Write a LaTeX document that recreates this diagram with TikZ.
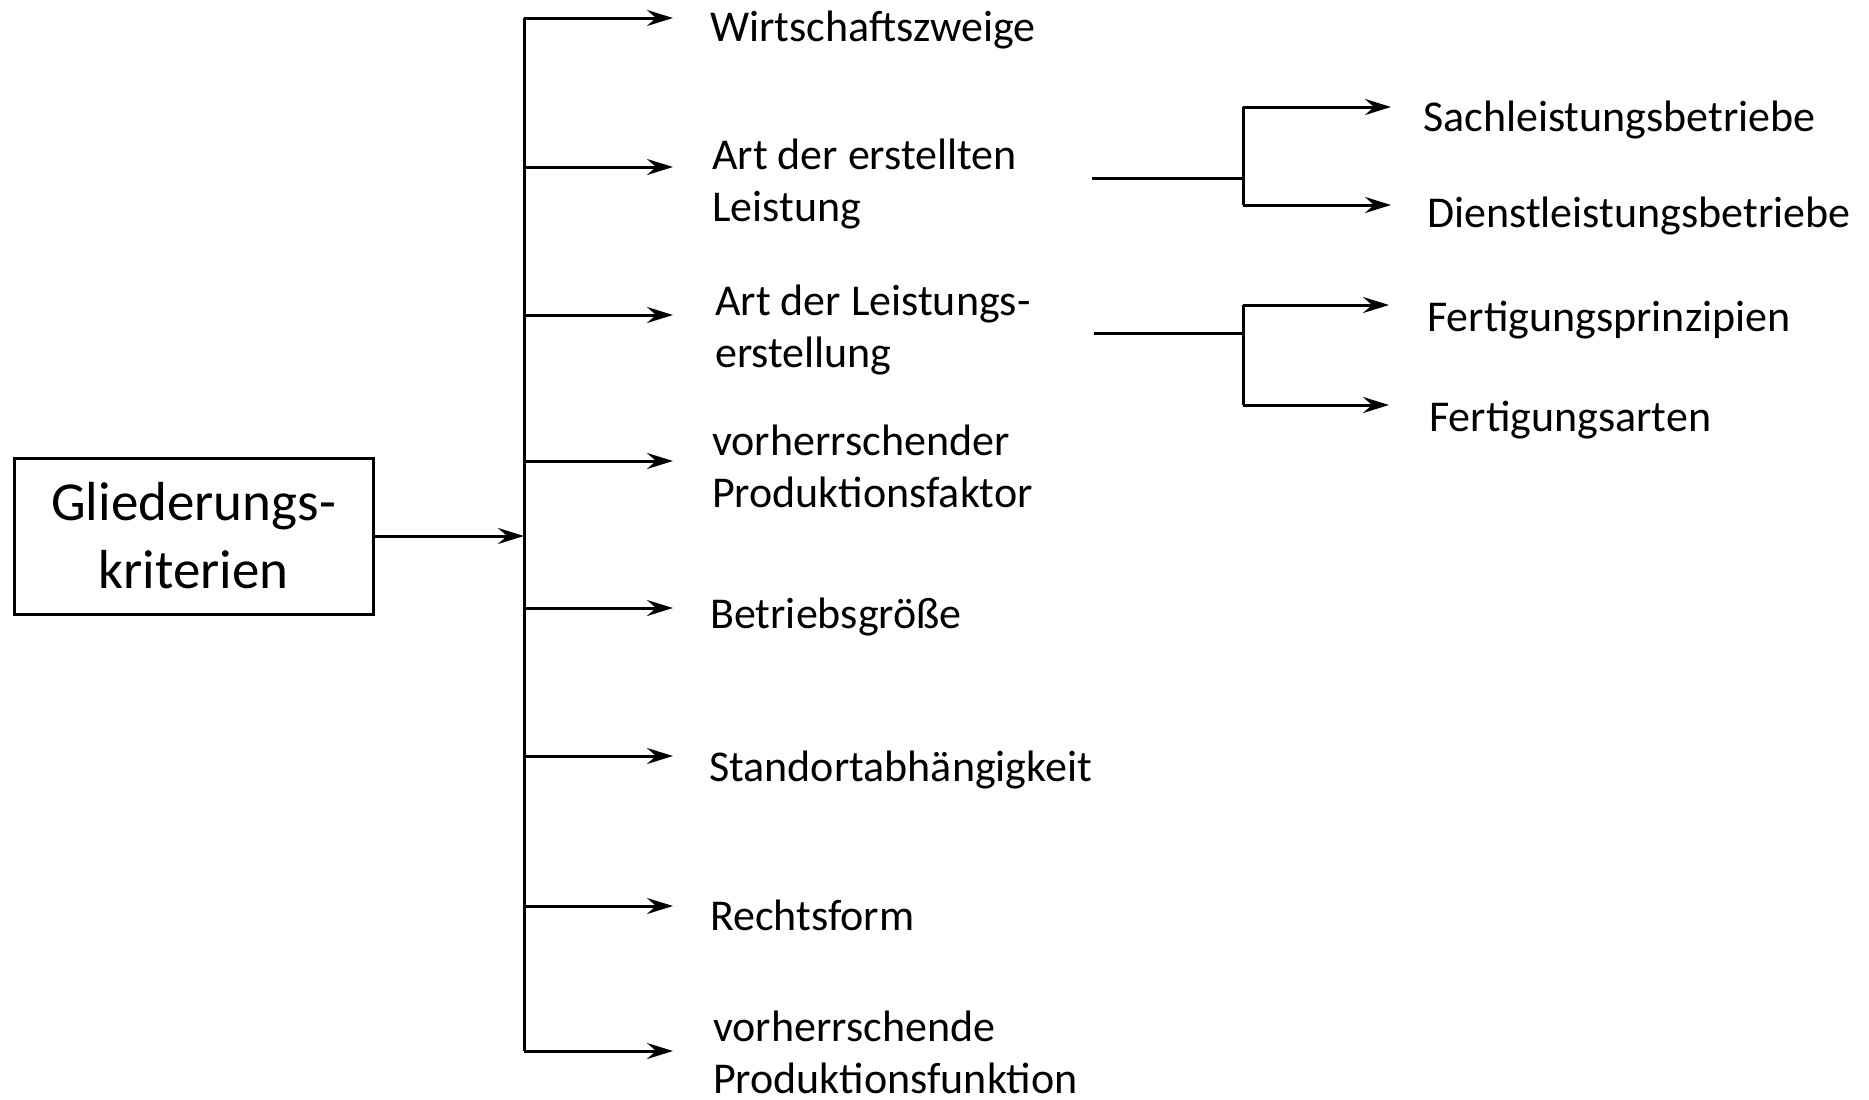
\documentclass[tikz,border=0pt]{standalone}
\usepackage{fontspec}
\setmainfont{Carlito}
\usetikzlibrary{arrows.meta}
\begin{document}
\begin{tikzpicture}[x=1pt,y=-1pt,
  ln/.style={line width=3pt},
  arr/.style={ln,-{Stealth[length=26pt,width=16pt,inset=9pt]}},
  lbl/.style={anchor=west,inner sep=0pt,align=left,font=\fontsize{44}{52}\selectfont},
  box/.style={draw,line width=3pt,minimum width=359pt,minimum height=156pt,align=center,inner sep=0pt,font=\fontsize{55}{68}\selectfont}]
\useasboundingbox (0,0) rectangle (1869,1100);
\node[box] (root) at (193.5,536) {Gliederungs-\\kriterien};
% bus
\coordinate (btop) at (524,18);
\coordinate (bbot) at (524,1051);
\coordinate (bmid) at (524,536);
\draw[ln] (btop) -- (bbot);
\draw[arr] (root.east |- bmid) -- (bmid);
% labels
\node[lbl] (t1) at (710,30) {Wirtschaftszweige};
\node[lbl] (t2) at (712,184) {Art der erstellten\\Leistung};
\node[lbl] (t3) at (715,330) {Art der Leistungs-\\erstellung};
\node[lbl] (t4) at (712,466) {vorherrschender\\Produktionsfaktor};
\node[lbl] (t5) at (710,617) {Betriebsgröße};
\node[lbl] (t6) at (709,770) {Standortabhängigkeit};
\node[lbl] (t7) at (710,915) {Rechtsform};
\node[lbl] (t8) at (713,1052) {vorherrschende\\Produktionsfunktion};
\foreach \i/\y in {1/18,2/167,3/315,4/461,5/608,6/756,7/906,8/1051}{
  \coordinate (s\i) at (524,\y);
  \coordinate (e\i) at (673,\y);
  \draw[arr] (s\i) -- (e\i);
}
% sub-branch 1
\coordinate (a1) at (1092,178);
\coordinate (a2) at (1243,178);
\coordinate (a3) at (1243,107);
\coordinate (a4) at (1243,205);
\coordinate (ae1) at (1391,107);
\coordinate (ae2) at (1391,205);
\draw[ln] (a1) -- (a2);
\draw[ln] (a3) -- (a4);
\draw[arr] (a3) -- (ae1);
\draw[arr] (a4) -- (ae2);
\node[lbl] (u1) at (1423,120) {Sachleistungsbetriebe};
\node[lbl] (u2) at (1427,216) {Dienstleistungsbetriebe};
% sub-branch 2
\coordinate (b1) at (1094,333);
\coordinate (b2) at (1243,333);
\coordinate (b3) at (1243,305);
\coordinate (b4) at (1243,405);
\coordinate (be1) at (1389,305);
\coordinate (be2) at (1389,405);
\draw[ln] (b1) -- (b2);
\draw[ln] (b3) -- (b4);
\draw[arr] (b3) -- (be1);
\draw[arr] (b4) -- (be2);
\node[lbl] (v1) at (1427,320) {Fertigungsprinzipien};
\node[lbl] (v2) at (1429,420) {Fertigungsarten};
\end{tikzpicture}
\end{document}
